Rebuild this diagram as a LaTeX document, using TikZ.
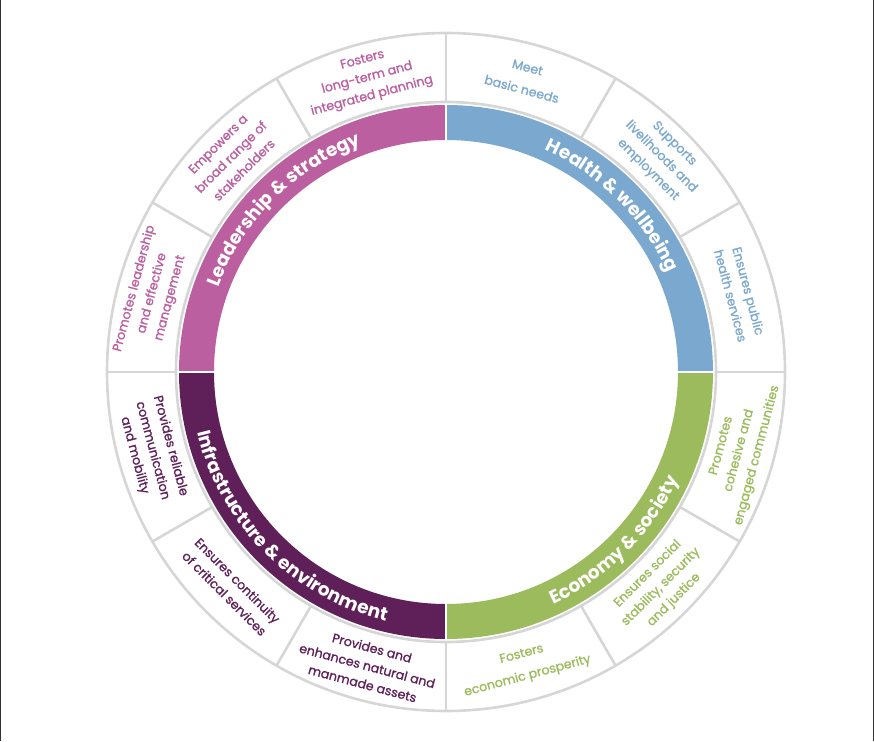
\documentclass[tikz,border=0pt]{standalone}
\usepackage{fontspec}
\setmainfont{Poppins}
\newfontfamily\outerfont{Poppins}[FakeBold=1.2]
\usetikzlibrary{decorations.text}

\definecolor{healthblue}{HTML}{7BA8CF}
\definecolor{econgreen}{HTML}{9BBB5D}
\definecolor{infrapurple}{HTML}{5F2059}
\definecolor{leadpink}{HTML}{BB5FA0}
\definecolor{ringgray}{HTML}{D6D6D6}

\tikzset{
  ring/.style={draw=ringgray,line width=2.6pt},
  gap/.style={draw=white,line width=2.6pt},
  outer/.style={align=center,inner sep=0pt,font=\outerfont\fontsize{12.6}{18.5}\selectfont},
  bandlabel/.style={decorate,decoration={text along path,text align=center,
    text color=white,text format delimiters={[}{]}}},
}

\begin{document}
\begin{tikzpicture}[x=1pt,y=1pt,line join=bevel,]
\useasboundingbox (-446pt,-369pt) rectangle (428pt,372pt);
\draw[line width=1pt,black!80] (-445.5pt,-369pt) -- (-445.5pt,372pt);
\draw[line width=1pt,black!80] (427.5pt,-369pt) -- (427.5pt,372pt);
%%
  \fill[healthblue]  (0:232pt) arc (0:90:232pt) -- (90:267pt) arc (90:0:267pt) -- cycle;
  \fill[leadpink]    (90:232pt) arc (90:180:232pt) -- (180:267pt) arc (180:90:267pt) -- cycle;
  \fill[infrapurple] (180:232pt) arc (180:270:232pt) -- (270:267pt) arc (270:180:267pt) -- cycle;
  \fill[econgreen]   (270:232pt) arc (270:360:232pt) -- (0:267pt) arc (360:270:267pt) -- cycle;
  \foreach \a in {0,90,180,270}
    \draw[gap] (\a:228pt) -- (\a:268pt);

  \draw[ring] (0,0) circle (270pt);
  \draw[ring] (0,0) circle (339pt);
  \foreach \a in {0,30,...,330}
    \draw[ring] (\a:270pt) -- (\a:339pt);

  \path[bandlabel,decoration={text={[\fontsize{18.5}{18.5}\selectfont\bfseries]Health {\&} wellbeing}}]
    (89:243pt) arc (89:1:243pt);
  \path[bandlabel,decoration={text={[\fontsize{18.5}{18.5}\selectfont\bfseries]Leadership {\&} strategy}}]
    (179:243pt) arc (179:91:243pt);
  \path[bandlabel,decoration={text={[\fontsize{18.5}{18.5}\selectfont\bfseries]Infrastructure {\&} environment}}]
    (181:256pt) arc (181:269:256pt);
  \path[bandlabel,decoration={text={[\fontsize{18.5}{18.5}\selectfont\bfseries]Economy {\&} society}}]
    (271:256pt) arc (271:359:256pt);

  \node (node_0)  at (105:304pt)  [outer,rotate=15,text=leadpink]     {Fosters\\long-term and\\integrated planning};
  \node (node_1)  at (75:304pt)   [outer,rotate=-15,text=healthblue]  {Meet\\[4pt]basic needs};
  \node (node_2)  at (45:304pt)   [outer,rotate=-45,text=healthblue]  {Supports\\livelihoods and\\employment};
  \node (node_3)  at (15:304pt)   [outer,rotate=-75,text=healthblue]  {Ensures public\\health services};
  \node (node_4)  at (-15:304pt)  [outer,rotate=75,text=econgreen]    {Promotes\\cohesive and\\engaged communities};
  \node (node_5)  at (-45:304pt)  [outer,rotate=45,text=econgreen]    {Ensures social\\stability, security\\and justice};
  \node (node_6)  at (-75:304pt)  [outer,rotate=15,text=econgreen]    {Fosters\\[4pt]economic prosperity};
  \node (node_7)  at (-105:304pt) [outer,rotate=-15,text=infrapurple] {Provides and\\enhances natural and\\manmade assets};
  \node (node_8)  at (-135:304pt) [outer,rotate=-45,text=infrapurple] {Ensures continuity\\of critical services};
  \node (node_9)  at (-165:304pt) [outer,rotate=-75,text=infrapurple] {Provides reliable\\communication\\and mobility};
  \node (node_10) at (165:304pt)  [outer,rotate=75,text=leadpink]     {Promotes leadership\\and effective\\management};
  \node (node_11) at (135:304pt)  [outer,rotate=45,text=leadpink]     {Empowers a\\broad range of\\stakeholders};
%
\end{tikzpicture}
\end{document}
